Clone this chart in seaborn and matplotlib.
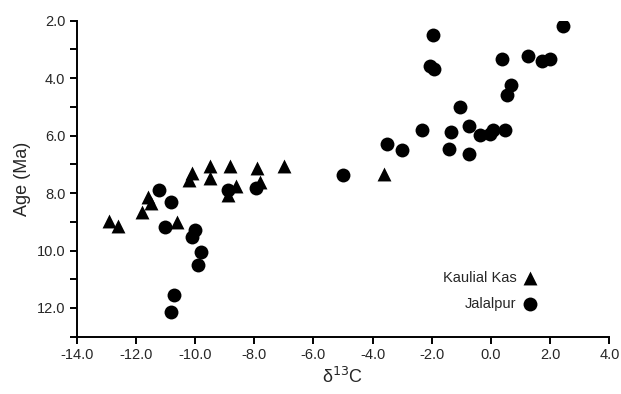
import numpy as np
import pandas as pd
import matplotlib
matplotlib.use("Agg")
import matplotlib.pyplot as plt
from matplotlib.ticker import MultipleLocator, FormatStrFormatter
import seaborn as sns

# delta13C vs age
kaulial_x = [-12.9, -12.6, -11.8, -11.6, -11.5, -10.6, -10.2, -10.1, -9.5, -9.5,
             -8.8, -8.9, -8.6, -7.9, -7.8, -7.0, -3.6]
kaulial_y = [8.98, 9.15, 8.65, 8.13, 8.34, 9.02, 7.56, 7.30, 7.05, 7.48,
             7.05, 8.05, 7.74, 7.13, 7.60, 7.05, 7.35]

jalalpur_x = [-11.2, -10.8, -11.0, -10.0, -10.1, -9.8, -9.9, -10.7, -10.8,
              -8.9, -7.95, -5.0, -3.52, -3.02, -2.33, -1.95, -2.06, -1.91,
              -1.43, -1.35, -1.05, -0.75, -0.75, -0.37, -0.03, 0.08, 0.36,
              0.48, 0.55, 0.68, 1.26, 1.73, 1.99, 2.43]
jalalpur_y = [7.88, 8.31, 9.17, 9.27, 9.54, 10.06, 10.5, 11.56, 12.15,
              7.88, 7.83, 7.36, 6.30, 6.49, 5.81, 2.50, 3.57, 3.67,
              6.47, 5.88, 5.00, 5.65, 6.63, 5.98, 5.96, 5.82, 3.34,
              5.81, 4.58, 4.23, 3.22, 3.39, 3.32, 2.17]

sns.set_style("ticks")
plt.rcParams["font.family"] = ["Liberation Sans", "DejaVu Sans"]
plt.rcParams["axes.unicode_minus"] = True

kk = pd.DataFrame({"d13C": kaulial_x, "age": kaulial_y})
jp = pd.DataFrame({"d13C": jalalpur_x, "age": jalalpur_y})

fig = plt.figure(figsize=(6.21, 3.94), dpi=100)
ax = fig.add_axes([0.1233, 0.1454, 0.858, 0.8021])

sns.scatterplot(data=kk, x="d13C", y="age", marker="^", color="black",
                s=100, linewidth=0, label="Kaulial Kas", ax=ax)
sns.scatterplot(data=jp, x="d13C", y="age", marker="o", color="black",
                s=100, linewidth=0, label="Jalalpur", ax=ax)

ax.set_xlim(-14, 4)
ax.set_ylim(13, 2)
ax.xaxis.set_major_locator(MultipleLocator(2))
ax.xaxis.set_major_formatter(FormatStrFormatter("%.1f"))
ax.yaxis.set_major_locator(MultipleLocator(2))
ax.yaxis.set_minor_locator(MultipleLocator(1))
ax.yaxis.set_major_formatter(FormatStrFormatter("%.1f"))

sns.despine(ax=ax)
for side in ["left", "bottom"]:
    ax.spines[side].set_linewidth(1.4)
    ax.spines[side].set_color("black")
ax.tick_params(axis="both", which="both", direction="out", length=5,
               width=1.4, color="black", labelsize=10.5, pad=3)

ax.set_xlabel("δ$^{13}$C", fontsize=13, labelpad=4)
ax.set_ylabel("Age (Ma)", fontsize=13, labelpad=4)

ax.legend(markerfirst=False, frameon=False, loc="lower right",
          bbox_to_anchor=(0.875, 0.062), borderaxespad=0,
          fontsize=10.5, handlelength=1.0, handletextpad=0.4,
          labelspacing=0.85)

fig.savefig("out.png", dpi=100)
